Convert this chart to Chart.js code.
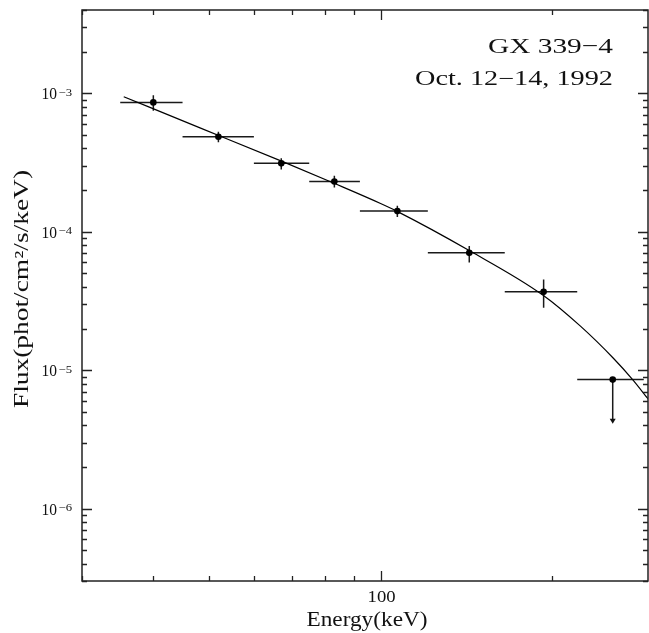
<!DOCTYPE html>
<html>
<head>
<meta charset="utf-8">
<script src="https://cdn.jsdelivr.net/npm/chart.js@4/dist/chart.umd.min.js"></script>
<style>
  html, body { margin: 0; padding: 0; background: #fff; }
  canvas { display: block; }
</style>
</head>
<body>
<canvas id="spec" width="649" height="633"></canvas>
<script>
// GX 339-4 hard X-ray spectrum, Oct. 12-14, 1992
// Bin centres and bin edges (keV)
const energy   = [40, 52, 67, 83, 107, 143, 193];
const energyLo = [35, 45, 60, 75, 92, 121, 165];
const energyHi = [45, 60, 75, 92, 121, 165, 221];
// Photon flux (phot/cm²/s/keV) with 1-sigma bounds
const flux   = [8.6e-4, 4.86e-4, 3.12e-4, 2.31e-4, 1.41e-4, 7.04e-5, 3.68e-5];
const fluxLo = [7.5e-4, 4.43e-4, 2.82e-4, 2.09e-4, 1.28e-4, 6.0e-5, 2.82e-5];
const fluxHi = [9.7e-4, 5.27e-4, 3.39e-4, 2.54e-4, 1.54e-4, 7.9e-5, 4.52e-5];
// Upper limit in the highest bin
const ulEnergy = [255];
const ulEnergyLo = [221];
const ulEnergyHi = [289];
const ulFlux = [8.55e-6];
const ulArrowTip = [4.1e-6];
// Best-fit model curve
const modelEnergy = [35.5, 48.4, 67.4, 83.1, 100, 106.7, 143.2, 192.6, 223.9, 255.7, 276.1, 294.4];
const modelFlux   = [9.45e-4, 5.61e-4, 3.21e-4, 2.23e-4, 1.60e-4, 1.41e-4, 7.29e-5, 3.48e-5, 2.08e-5, 1.22e-5, 8.59e-6, 6.17e-6];
// Axis labelling
const yTickExponents = [-3, -4, -5, -6];
const xTickLabels = [100];
const titleLines = ['GX 339\u22124', 'Oct. 12\u221214, 1992'];
const xTitle = 'Energy(keV)';
const yTitle = 'Flux(phot/cm\u00B2/s/keV)';

const FONT = '"Liberation Serif", "DejaVu Serif", serif';
const INK = '#111';

// Draw text squeezed/stretched horizontally to a given width
function fitText(ctx, txt, x, y, size, width, align) {
  ctx.save();
  ctx.font = size + 'px ' + FONT;
  const w0 = ctx.measureText(txt).width;
  const sx = width / w0;
  let x0 = x;
  if (align === 'right') x0 = x - width;
  else if (align === 'center') x0 = x - width / 2;
  ctx.translate(x0, y);
  ctx.scale(sx, 1);
  ctx.textAlign = 'left';
  ctx.textBaseline = 'alphabetic';
  ctx.fillStyle = INK;
  ctx.fillText(txt, 0, 0);
  ctx.restore();
}

const framePlugin = {
  id: 'frame',
  beforeDatasetsDraw(chart) {
    const { ctx, chartArea: a, scales: { x, y } } = chart;
    ctx.save();
    ctx.strokeStyle = '#1a1a1a';
    ctx.lineWidth = 1.5;
    // horizontal error bars (bin widths) and vertical error bars
    for (let i = 0; i < energy.length; i++) {
      const px = x.getPixelForValue(energy[i]);
      const py = y.getPixelForValue(flux[i]);
      ctx.beginPath();
      ctx.moveTo(x.getPixelForValue(energyLo[i]), py);
      ctx.lineTo(x.getPixelForValue(energyHi[i]), py);
      ctx.moveTo(px, y.getPixelForValue(fluxHi[i]));
      ctx.lineTo(px, y.getPixelForValue(fluxLo[i]));
      ctx.stroke();
    }
    // upper limit: bin width and downward arrow
    for (let i = 0; i < ulEnergy.length; i++) {
      const px = x.getPixelForValue(ulEnergy[i]);
      const py = y.getPixelForValue(ulFlux[i]);
      const tip = y.getPixelForValue(ulArrowTip[i]);
      ctx.beginPath();
      ctx.moveTo(x.getPixelForValue(ulEnergyLo[i]), py);
      ctx.lineTo(Math.min(x.getPixelForValue(ulEnergyHi[i]), a.right), py);
      ctx.moveTo(px, py);
      ctx.lineTo(px, tip - 4);
      ctx.stroke();
      ctx.fillStyle = '#111';
      ctx.beginPath();
      ctx.moveTo(px - 3, tip - 5);
      ctx.lineTo(px + 3, tip - 5);
      ctx.lineTo(px, tip);
      ctx.closePath();
      ctx.fill();
    }
    ctx.restore();
  },
  afterDraw(chart) {
    const { ctx, chartArea: a, scales: { x, y } } = chart;
    ctx.save();
    // frame
    ctx.strokeStyle = '#222';
    ctx.lineWidth = 1.5;
    ctx.strokeRect(a.left, a.top, a.right - a.left, a.bottom - a.top);
    // inward tick marks on all four sides
    ctx.lineWidth = 1.3;
    ctx.beginPath();
    for (let d = -7; d <= -2; d++) {
      for (let m = 1; m <= 9; m++) {
        const v = m * Math.pow(10, d);
        if (v < y.min * 0.999 || v > y.max * 1.001) continue;
        const py = Math.round(y.getPixelForValue(v)) + 0.5;
        const len = m === 1 ? 10 : 5;
        ctx.moveTo(a.left, py); ctx.lineTo(a.left + len, py);
        ctx.moveTo(a.right, py); ctx.lineTo(a.right - len, py);
      }
    }
    for (let d = 1; d <= 2; d++) {
      for (let m = 1; m <= 9; m++) {
        const v = m * Math.pow(10, d);
        if (v < x.min * 0.999 || v > x.max * 1.001) continue;
        const px = Math.round(x.getPixelForValue(v)) + 0.5;
        const len = m === 1 ? 10 : 5;
        ctx.moveTo(px, a.bottom); ctx.lineTo(px, a.bottom - len);
        ctx.moveTo(px, a.top); ctx.lineTo(px, a.top + len);
      }
    }
    ctx.stroke();

    // y tick labels: 10^n
    for (const e of yTickExponents) {
      const py = y.getPixelForValue(Math.pow(10, e));
      fitText(ctx, '10', 57, py + 6, 16, 15.5, 'right');
      fitText(ctx, '\u2212' + Math.abs(e), 58.5, py + 2.5, 11, 13.5, 'left');
    }
    // x tick labels
    for (const v of xTickLabels) {
      fitText(ctx, String(v), x.getPixelForValue(v) + 1, 602, 16, 28, 'center');
    }
    // axis titles
    fitText(ctx, xTitle, 367, 626, 20, 121, 'center');
    ctx.save();
    ctx.translate(28, 289);
    ctx.rotate(-Math.PI / 2);
    fitText(ctx, yTitle, 0, 0, 20, 238, 'center');
    ctx.restore();
    // source and date
    fitText(ctx, titleLines[0], 613, 53, 22, 125, 'right');
    fitText(ctx, titleLines[1], 613, 85, 20, 198, 'right');
    ctx.restore();
  }
};

new Chart(document.getElementById('spec'), {
  type: 'scatter',
  data: {
    datasets: [
      {
        label: 'model',
        data: modelEnergy.map((e, i) => ({ x: e, y: modelFlux[i] })),
        showLine: true,
        borderColor: '#000',
        borderWidth: 1.2,
        pointRadius: 0,
        cubicInterpolationMode: 'monotone',
        fill: false
      },
      {
        label: 'flux',
        data: energy.map((e, i) => ({ x: e, y: flux[i] })),
        pointRadius: 3.3,
        pointBackgroundColor: '#000',
        pointBorderColor: '#000',
        pointBorderWidth: 0
      },
      {
        label: 'upper limit',
        data: ulEnergy.map((e, i) => ({ x: e, y: ulFlux[i] })),
        pointRadius: 3.3,
        pointBackgroundColor: '#000',
        pointBorderColor: '#000',
        pointBorderWidth: 0
      }
    ]
  },
  options: {
    responsive: false,
    animation: false,
    events: [],
    layout: { autoPadding: false, padding: { left: 82, right: 1, top: 10, bottom: 52 } },
    plugins: { legend: { display: false }, tooltip: { enabled: false } },
    scales: {
      x: { type: 'logarithmic', min: 30, max: 294, display: false },
      y: { type: 'logarithmic', min: 3e-7, max: 4e-3, display: false }
    }
  },
  plugins: [framePlugin]
});
</script>
</body>
</html>
